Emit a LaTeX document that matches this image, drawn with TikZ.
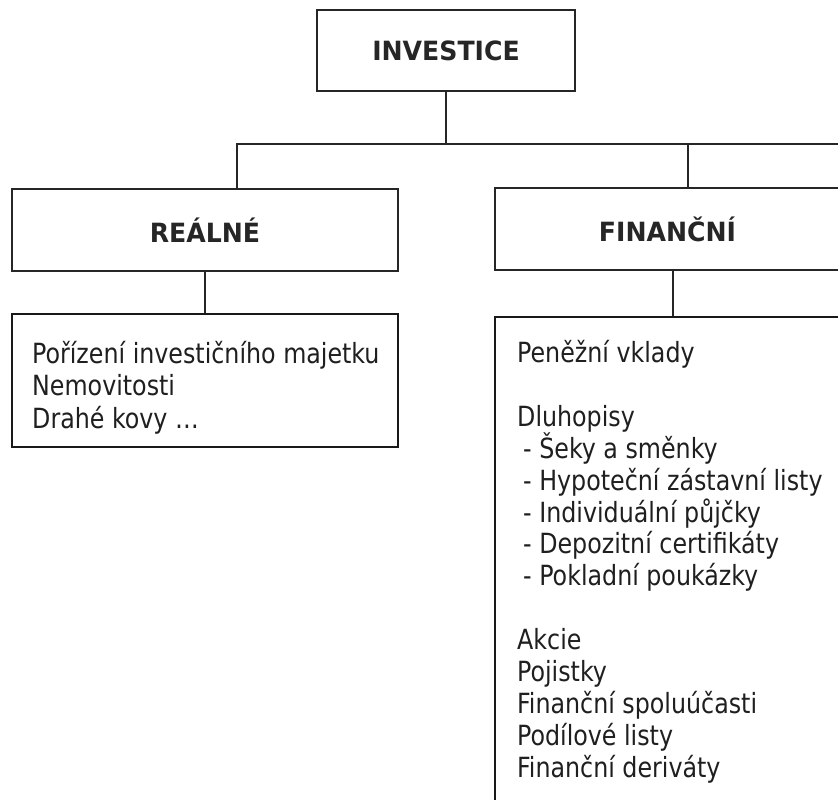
\documentclass[tikz,border=0pt]{standalone}
\usepackage{fontspec}
\setmainfont{DejaVu Sans}
\newfontfamily\condfont[FakeStretch=0.95]{DejaVu Sans Condensed}
\newfontfamily\headfont[FakeStretch=0.95]{DejaVu Sans Bold}
\tikzset{
  hd/.style={draw=black!85, line width=1.1pt, font=\headfont\fontsize{26.5}{30}\selectfont, text=black!85, inner sep=0pt},
  cont/.style={draw=black!90, line width=2pt, inner sep=0pt},
  txt/.style={font=\condfont\fontsize{27.8}{32.6}\selectfont, text=black!88, inner sep=0pt, anchor=base west},
  conn/.style={draw=black!85, line width=1.8pt}
}
\begin{document}
\begin{tikzpicture}[x=1pt,y=-1pt]
\useasboundingbox (0,0) rectangle (838,800);
\clip (0,0) rectangle (838,800);
\node[hd, minimum width=258pt, minimum height=81pt] (inv) at (446,50.5) {INVESTICE};
\node[hd, minimum width=386pt, minimum height=82pt] (real) at (205,230) {REÁLNÉ};
\node[hd, minimum width=345pt, minimum height=82pt] (fin) at (667.5,229) {FINANČNÍ};
\node[cont, minimum width=386pt, minimum height=133pt] (rbox) at (205,380.5) {};
\node[cont, minimum width=365pt, minimum height=513pt] (fbox) at (677.5,573.5) {};
\node[txt] (rtext) at (32,363) {\vtop{\hbox{Pořízení investičního majetku}\hbox{Nemovitosti}\hbox{Drahé kovy …}}};
\node[txt] (ftext) at (517,362.5) {\vtop{\baselineskip=31.9pt
  \hbox{Peněžní vklady}\hbox{}%
  \hbox{Dluhopisy}%
  \hbox{\hspace*{6pt}- Šeky a směnky}%
  \hbox{\hspace*{6pt}- Hypoteční zástavní listy}%
  \hbox{\hspace*{6pt}- Individuální půjčky}%
  \hbox{\hspace*{6pt}- Depozitní certifikáty}%
  \hbox{\hspace*{6pt}- Pokladní poukázky}\hbox{}%
  \hbox{Akcie}%
  \hbox{Pojistky}%
  \hbox{Finanční spoluúčasti}%
  \hbox{Podílové listy}%
  \hbox{Finanční deriváty}}};
\coordinate (busR) at (850,144);
\coordinate (realtop) at ([xshift=32pt]real.north);
\coordinate (fintop) at ([xshift=20.5pt]fin.north);
\coordinate (finbot) at ([xshift=5.5pt]fin.south);
\draw[conn] (inv.south) -- (inv.south |- busR);
\draw[conn] (realtop) |- (busR);
\draw[conn] (fintop) -- (fintop |- busR);
\draw[conn] (real.south) -- (rbox.north);
\draw[conn] (finbot) -- (finbot |- fbox.north);
\end{tikzpicture}
\end{document}
